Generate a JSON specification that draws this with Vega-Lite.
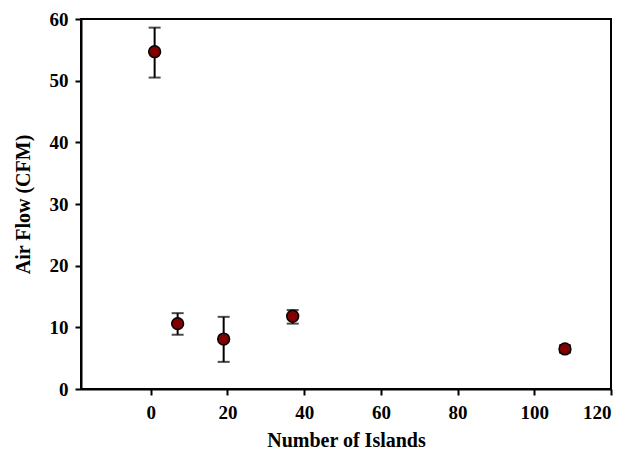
{
  "$schema": "https://vega.github.io/schema/vega-lite/v6.json",
  "width": 530,
  "height": 370,
  "autosize": {"type": "none"},
  "padding": {"left": 81, "top": 19, "right": 16, "bottom": 63},
  "background": "white",
  "config": {
    "view": {"stroke": "black", "strokeWidth": 2},
    "font": "Liberation Serif",
    "axis": {
      "grid": false,
      "domainColor": "black",
      "domainWidth": 2,
      "tickColor": "black",
      "tickWidth": 2,
      "tickSize": 6,
      "labelFont": "Liberation Serif",
      "labelFontWeight": "bold",
      "labelFontSize": 19,
      "labelColor": "black",
      "titleFont": "Liberation Serif",
      "titleFontWeight": "bold",
      "titleFontSize": 20,
      "titleColor": "black"
    }
  },
  "data": {
    "values": [
      {"islands": 1, "flow": 54.7, "lo": 50.5, "hi": 58.6},
      {"islands": 7, "flow": 10.6, "lo": 8.8, "hi": 12.3},
      {"islands": 19, "flow": 8.1, "lo": 4.4, "hi": 11.7},
      {"islands": 37, "flow": 11.8, "lo": 10.6, "hi": 12.8},
      {"islands": 108, "flow": 6.5, "lo": 5.9, "hi": 7.1}
    ]
  },
  "encoding": {
    "x": {
      "field": "islands",
      "type": "quantitative",
      "scale": {"domain": [-18.2, 120], "nice": false, "zero": false},
      "axis": {"values": [0, 20, 40, 60, 80, 100, 120], "title": "Number of Islands", "labelPadding": 8, "titlePadding": 8}
    }
  },
  "layer": [
    {
      "mark": {"type": "rule", "color": "black", "strokeWidth": 2},
      "encoding": {
        "y": {"field": "lo", "type": "quantitative"},
        "y2": {"field": "hi"}
      }
    },
    {
      "mark": {"type": "tick", "orient": "horizontal", "color": "black", "size": 12, "thickness": 2},
      "encoding": {"y": {"field": "lo", "type": "quantitative"}}
    },
    {
      "mark": {"type": "tick", "orient": "horizontal", "color": "black", "size": 12, "thickness": 2},
      "encoding": {"y": {"field": "hi", "type": "quantitative"}}
    },
    {
      "mark": {"type": "point", "shape": "circle", "filled": true, "fill": "#800000", "stroke": "black", "strokeWidth": 1.5, "size": 140, "opacity": 1},
      "encoding": {
        "y": {
          "field": "flow",
          "type": "quantitative",
          "scale": {"domain": [0, 60], "nice": false},
          "axis": {"values": [0, 10, 20, 30, 40, 50, 60], "title": "Air Flow (CFM)", "labelPadding": 7, "titlePadding": 16}
        }
      }
    }
  ]
}
